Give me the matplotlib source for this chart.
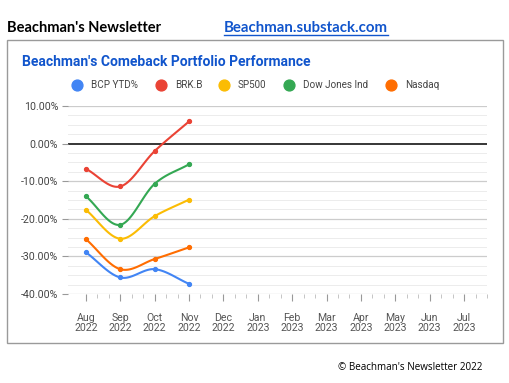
import numpy as np
import matplotlib
matplotlib.use("Agg")
import matplotlib.pyplot as plt
from matplotlib.patches import Rectangle
from matplotlib.lines import Line2D

months = ["Aug\n2022", "Sep\n2022", "Oct\n2022", "Nov\n2022", "Dec\n2022", "Jan\n2023",
          "Feb\n2023", "Mar\n2023", "Apr\n2023", "May\n2023", "Jun\n2023", "Jul\n2023"]

bcp = [-28.9, -35.6, -33.4, -37.3]
brk = [-6.7, -11.4, -2.0, 5.9]
sp500 = [-17.6, -25.3, -19.3, -14.9]
dow = [-14.0, -21.6, -10.7, -5.5]
nasdaq = [-25.4, -33.4, -30.7, -27.6]

series_names = ["BCP YTD%", "BRK.B", "SP500", "Dow Jones Ind", "Nasdaq"]
series_vals = [bcp, brk, sp500, dow, nasdaq]
colors = ["#4285F4", "#EA4335", "#FBBC04", "#34A853", "#FF6D01"]

yticks = [10, 0, -10, -20, -30, -40]


def smooth(x, y, n=30):
    # catmull-rom style curve through the points (like the sheets "smooth" line)
    x = np.asarray(x, float)
    y = np.asarray(y, float)
    xs, ys = [], []
    for i in range(len(x) - 1):
        x0, x1 = x[i], x[i + 1]
        y0, y1 = y[i], y[i + 1]
        m0 = (y[i + 1] - y[i - 1]) / (x[i + 1] - x[i - 1]) if i > 0 else (y1 - y0) / (x1 - x0)
        m1 = (y[i + 2] - y[i]) / (x[i + 2] - x[i]) if i + 2 < len(x) else (y1 - y0) / (x1 - x0)
        t = np.linspace(0, 1, n)
        h = x1 - x0
        h00 = 2 * t**3 - 3 * t**2 + 1
        h10 = t**3 - 2 * t**2 + t
        h01 = -2 * t**3 + 3 * t**2
        h11 = t**3 - t**2
        xs.extend(x0 + t * h)
        ys.extend(h00 * y0 + h10 * h * m0 + h01 * y1 + h11 * h * m1)
    return np.array(xs), np.array(ys)


fig = plt.figure(figsize=(5.09, 3.83), dpi=100)
W, H = 509, 383

# outer box
fig.patches.append(Rectangle((7 / W, 1 - 343 / H), (503 - 7) / W, (343 - 40) / H,
                             transform=fig.transFigure, fill=False, edgecolor="#9a9a9a", lw=1))

fig.text(7 / W, 1 - 28 / H, "Beachman's Newsletter", family="Lato", weight="bold",
         fontsize=10.5, va="center", ha="left", color="black")
link = fig.text(224 / W, 1 - 28 / H, "Beachman.substack.com", family="Lato", weight="bold",
                fontsize=10.8, va="center", ha="left", color="#1155CC")
fig.canvas.draw()
bb = link.get_window_extent()
fig.add_artist(Line2D([bb.x0 / W, bb.x1 / W], [1 - 35 / H, 1 - 35 / H], color="#1155CC", lw=1,
                      transform=fig.transFigure))

fig.text(22 / W, 1 - 62 / H, "Beachman's Comeback Portfolio Performance", family="Roboto",
         weight="bold", fontsize=10.0, va="center", ha="left", color="#1155CC")

# legend
leg_x = [77, 161, 224, 289, 391]
for lx, name, c in zip(leg_x, series_names, colors):
    fig.add_artist(Line2D([lx / W], [1 - 85 / H], marker="o", markersize=7.8, color=c,
                          transform=fig.transFigure, lw=0))
    fig.text((lx + 14) / W, 1 - 85 / H, name, family="Roboto", fontsize=7.1,
             va="center", ha="left", color="#444444")

fig.text(482 / W, 1 - 367 / H, "\u00a9 Beachman's Newsletter 2022", family="Open Sans",
         fontsize=7.1, va="center", ha="right", color="black")

ax = fig.add_axes([68 / W, 1 - 294 / H, (487 - 68) / W, (294 - 106) / H])
ax.set_xlim(-0.52, 11.45)
ax.set_ylim(-40, 10)

for v in np.arange(-40, 10.1, 2.5):
    if v % 10 == 0:
        ax.axhline(v, color="#000000" if v == 0 else "#cccccc", lw=1.1 if v == 0 else 0.9, zorder=1)
    else:
        ax.axhline(v, color="#ececec", lw=0.7, zorder=0)

x = np.arange(len(bcp))
for vals, c in zip(series_vals, colors):
    sx, sy = smooth(x, vals)
    ax.plot(sx, sy, color=c, lw=1.5, zorder=3, solid_capstyle="round")
    ax.plot(x, vals, "o", color=c, markersize=2.8, zorder=4)

for s in ax.spines.values():
    s.set_visible(False)

ax.set_yticks(yticks)
ax.set_yticklabels([f"{v:.2f}%" for v in yticks], family="Roboto", fontsize=7.7, color="#444444")
ax.tick_params(axis="y", length=4, color="#999999", pad=3)

ax.set_xticks(range(len(months)))
ax.set_xticklabels(months, family="Roboto", fontsize=7.6, color="#555555", linespacing=0.9)
ax.set_xticks([m + k / 3 for m in range(len(months)) for k in (1, 2)], minor=True)
ax.tick_params(axis="x", which="major", length=5, color="#999999", pad=9)
ax.tick_params(axis="x", which="minor", length=3, color="#bbbbbb")

fig.savefig("out.png", dpi=100)
